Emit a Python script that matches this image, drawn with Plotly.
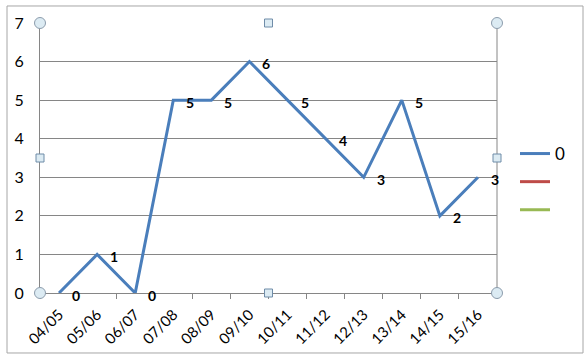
import plotly.graph_objects as go

categories = ["04/05", "05/06", "06/07", "07/08", "08/09", "09/10",
              "10/11", "11/12", "12/13", "13/14", "14/15", "15/16"]
values = [0, 1, 0, 5, 5, 6, 5, 4, 3, 5, 2, 3]
series_names = ["0", " ", "  "]
series_colors = ["#4A7EBB", "#BE4B48", "#98B954"]

W, H = 588, 361
L, R, T, B = 40, 497, 23, 293

def px(x):
    return (x - L) / (R - L)

def py(y):
    return (B - y) / (B - T)

fig = go.Figure()
fig.add_trace(go.Scatter(x=categories, y=values, mode="lines", name=series_names[0],
                         legendgroup="a", line=dict(color=series_colors[0], width=3)))
for i, (n, c) in enumerate(zip(series_names[1:], series_colors[1:])):
    fig.add_trace(go.Scatter(x=[None], y=[None], mode="lines", name=n,
                             legendgroup="g%d" % i, line=dict(color=c, width=3)))

annotations = []
for c, v in zip(categories, values):
    annotations.append(dict(x=c, y=v, xref="x", yref="y", text="<b>%d</b>" % v,
                            showarrow=False, xshift=17, yshift=-2,
                            font=dict(size=14, color="black", family="Lato")))

shapes = []
# chart area border
shapes.append(dict(type="path", xref="paper", yref="paper",
                   path="M %f %f L %f %f L %f %f L %f %f Z" % (
                       px(7), py(6), px(583), py(6), px(583), py(353), px(7), py(353)),
                   line=dict(color="#A6A6A6", width=1), fillcolor="rgba(0,0,0,0)", layer="below"))
# plot area right border
shapes.append(dict(type="line", xref="paper", yref="paper", x0=1, x1=1, y0=0, y1=1,
                   line=dict(color="#868686", width=1)))
# selection handles: circles at corners
for (hx, hy) in [(L, T), (R, T), (L, B), (R, B)]:
    shapes.append(dict(type="circle", xref="paper", yref="paper",
                       x0=px(hx - 5.5), x1=px(hx + 5.5), y0=py(hy + 5.5), y1=py(hy - 5.5),
                       line=dict(color="#8C9CAC", width=1), fillcolor="#DCEBF3"))
# squares at mid edges
for (hx, hy) in [((L + R) / 2, T), ((L + R) / 2, B), (L, (T + B) / 2), (R, (T + B) / 2)]:
    shapes.append(dict(type="rect", xref="paper", yref="paper",
                       x0=px(hx - 4), x1=px(hx + 4), y0=py(hy + 4), y1=py(hy - 4),
                       line=dict(color="#6F8CA8", width=1), fillcolor="#DCEBF3"))

fig.update_layout(
    width=W, height=H,
    margin=dict(l=L, r=W - R, t=T, b=H - B, autoexpand=False),
    paper_bgcolor="white", plot_bgcolor="white",
    font=dict(family="Lato", size=14, color="black"),
    showlegend=True,
    legend=dict(x=px(515), y=py(136), xanchor="left", yanchor="top",
                font=dict(size=17, family="Lato"), tracegroupgap=3,
                bgcolor="rgba(0,0,0,0)"),
    xaxis=dict(type="category", range=[-0.5, 11.5], showgrid=False, automargin=False,
               showline=True, linecolor="#868686", linewidth=1,
               ticks="outside", ticklen=5, tickcolor="#868686", tickson="boundaries",
               tickangle=-45, tickfont=dict(size=15, family="Lato"), ticklabelstandoff=6),
    yaxis=dict(range=[0, 7], dtick=1, showgrid=True, gridcolor="#868686", gridwidth=1,
               showline=True, linecolor="#868686", linewidth=1, zeroline=False, automargin=False,
               ticks="", tickfont=dict(size=16, family="Lato"), ticklabelstandoff=12),
    annotations=annotations,
    shapes=shapes,
)

fig.write_html("out.html", config={"displayModeBar": False},
               post_script="document.body.style.margin='0';")
